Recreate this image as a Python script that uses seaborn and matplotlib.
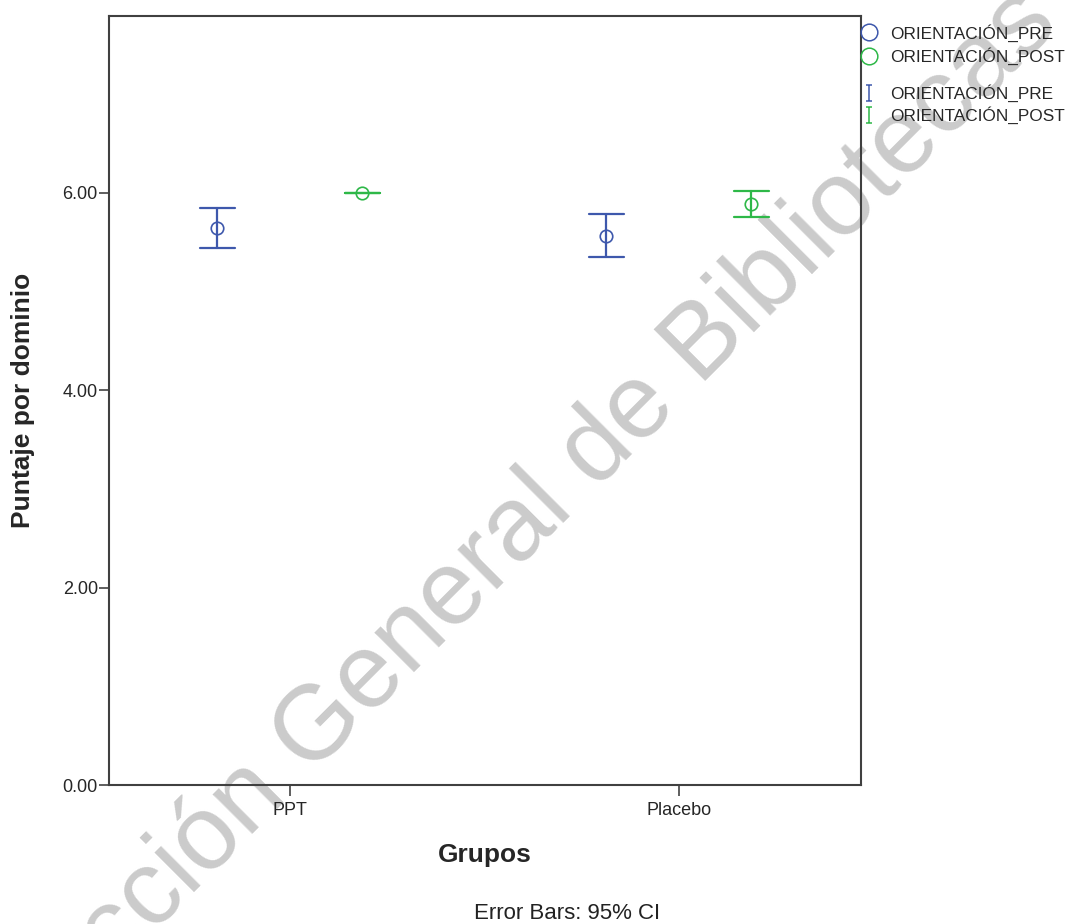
import numpy as np
import pandas as pd
import matplotlib
matplotlib.use("Agg")
import matplotlib.pyplot as plt
from matplotlib.lines import Line2D
from matplotlib.path import Path
import seaborn as sns

# valores (media e IC 95%)
grupos = ["PPT", "Placebo"]
momentos = ["ORIENTACIÓN_PRE", "ORIENTACIÓN_POST"]
media_pre = [5.64, 5.56]
ic_inf_pre = [5.44, 5.35]
ic_sup_pre = [5.85, 5.78]
media_post = [6.00, 5.89]
ic_inf_post = [6.00, 5.75]
ic_sup_post = [6.00, 6.02]
colores = ["#3E58AC", "#2EB848"]
yticks = [0, 2, 4, 6]

# tabla larga: por celda limite inferior, media y limite superior
rows = []
for i, g in enumerate(grupos):
    for v in (ic_inf_pre[i], media_pre[i], ic_sup_pre[i]):
        rows.append({"Grupos": g, "Momento": momentos[0], "Puntaje": v})
    for v in (ic_inf_post[i], media_post[i], ic_sup_post[i]):
        rows.append({"Grupos": g, "Momento": momentos[1], "Puntaje": v})
df = pd.DataFrame(rows)

sns.set_style("white")
plt.rcParams['font.family'] = ['Liberation Sans', 'DejaVu Sans']

fig = plt.figure(figsize=(10.8, 9.24), dpi=100)
fig.patch.set_facecolor("white")
ax = fig.add_axes([0.1009, 0.1504, 0.6961, 0.8323])
ax.set_facecolor("none")

sns.pointplot(data=df, x="Grupos", y="Puntaje", hue="Momento", order=grupos,
              hue_order=momentos, palette=colores, estimator="median",
              errorbar=lambda v: (v.min(), v.max()), dodge=0.372,
              linestyle="none", markers="o", capsize=0.09,
              markersize=9, markeredgewidth=1.2, markerfacecolor="none",
              err_kws={"linewidth": 1.6}, legend=False, ax=ax)

ax.set_ylim(0, 7.79)
ax.set_xlim(-0.465, 1.468)
ax.set_yticks(yticks)
ax.set_yticklabels([f"{t:.2f}" for t in yticks])
ax.tick_params(axis="y", direction="out", length=7, width=1.1, pad=1,
               labelsize=13, left=True, color="#333333")
ax.tick_params(axis="x", direction="out", length=8, width=1.1, pad=4,
               labelsize=13, bottom=True, color="#333333")
for s in ax.spines.values():
    s.set_visible(True)
    s.set_linewidth(1.5)
    s.set_color("#404040")

ax.set_xlabel("")
ax.set_ylabel("")
fig.text(0.021, 0.567, "Puntaje por dominio", rotation=90, ha="center",
         va="center", fontsize=19, fontweight="bold")
fig.text(0.449, 0.0747, "Grupos", ha="center", va="center",
         fontsize=19, fontweight="bold")
fig.text(0.525, 0.0119, "Error Bars: 95% CI", ha="center", va="center",
         fontsize=16, color="#222222")

# marca de agua
fig.text(0.463, 0.407, "Dirección General de Bibliotecas", rotation=45,
         rotation_mode="anchor", ha="center", va="center", fontsize=76,
         color="#cbcbcb", zorder=-1)

# leyenda
barra = Path([(-0.4, 1), (0.4, 1), (0, 1), (0, -1), (-0.4, -1), (0.4, -1)],
             [Path.MOVETO, Path.LINETO, Path.MOVETO, Path.LINETO,
              Path.MOVETO, Path.LINETO])
h1 = [Line2D([], [], linestyle="none", marker="o", markersize=12,
             markerfacecolor="none", markeredgecolor=c, markeredgewidth=1.1)
      for c in colores]
h2 = [Line2D([], [], linestyle="none", marker=barra, markersize=11,
             markeredgecolor=c, markeredgewidth=1.1) for c in colores]
leg1 = fig.legend(h1, momentos, loc="upper left",
                  bbox_to_anchor=(0.797, 0.974), frameon=False, fontsize=12.4,
                  handlelength=1.0, handletextpad=0.7, borderpad=0,
                  borderaxespad=0, labelspacing=0.35)
leg2 = fig.legend(h2, momentos, loc="upper left",
                  bbox_to_anchor=(0.797, 0.909), frameon=False, fontsize=12.4,
                  handlelength=1.0, handletextpad=0.7, borderpad=0,
                  borderaxespad=0, labelspacing=0.25)

plt.savefig("out.png", dpi=100)
